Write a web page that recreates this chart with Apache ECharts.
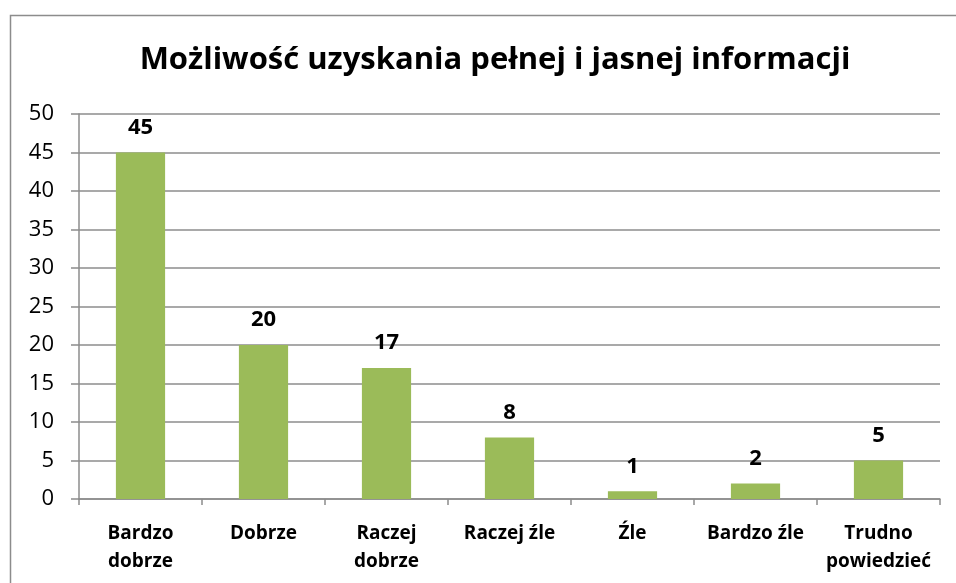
<!DOCTYPE html>
<html>
<head>
<meta charset="utf-8">
<script src="https://cdn.jsdelivr.net/npm/echarts@6/dist/echarts.min.js"></script>
<style>
  html, body { margin: 0; padding: 0; background: #fff; }
  #chart { width: 956px; height: 583px; }
</style>
</head>
<body>
<div id="chart"></div>
<script>
const categories = ['Bardzo\ndobrze', 'Dobrze', 'Raczej\ndobrze', 'Raczej źle', 'Źle', 'Bardzo źle', 'Trudno\npowiedzieć']
const values = [45, 20, 17, 8, 1, 2, 5]
const titleText = 'Możliwość uzyskania pełnej i jasnej informacji'

const font = '"Open Sans", Lato, sans-serif'
const gridColor = '#8c8c8c'

const chart = echarts.init(document.getElementById('chart'))
chart.setOption({
  animation: false,
  textStyle: { fontFamily: font },
  graphic: [{
    type: 'rect',
    shape: { x: 10.5, y: 15.5, width: 980, height: 600 },
    style: { fill: 'none', stroke: '#8c8c8c', lineWidth: 1.5 },
    silent: true
  }],
  title: {
    text: titleText,
    left: 490,
    top: 40,
    textAlign: 'center',
    textStyle: { fontFamily: font, fontSize: 31, fontWeight: 'bold', color: '#000' }
  },
  grid: { left: 79, right: 16, top: 114, bottom: 84 },
  xAxis: {
    type: 'category',
    data: categories,
    axisLine: { lineStyle: { color: gridColor, width: 1.5 } },
    axisTick: { show: true, length: 6, lineStyle: { color: gridColor, width: 1.5 } },
    axisLabel: { color: '#000', fontSize: 19, fontWeight: 'bold', lineHeight: 28, margin: 21, interval: 0 }
  },
  yAxis: {
    type: 'value',
    min: 0,
    max: 50,
    interval: 5,
    axisLine: { show: true, lineStyle: { color: gridColor, width: 1.5 } },
    axisTick: { show: true, length: 8, lineStyle: { color: gridColor, width: 1.5 } },
    axisLabel: { color: '#000', fontSize: 22, margin: 25 },
    splitLine: { lineStyle: { color: gridColor, width: 1.5 } }
  },
  series: [{
    type: 'bar',
    data: values,
    barWidth: '40%',
    itemStyle: { color: '#9bbb59' },
    label: {
      show: true,
      position: 'top',
      distance: 14,
      color: '#000',
      fontSize: 22,
      fontWeight: 'bold'
    }
  }]
})
</script>
</body>
</html>
